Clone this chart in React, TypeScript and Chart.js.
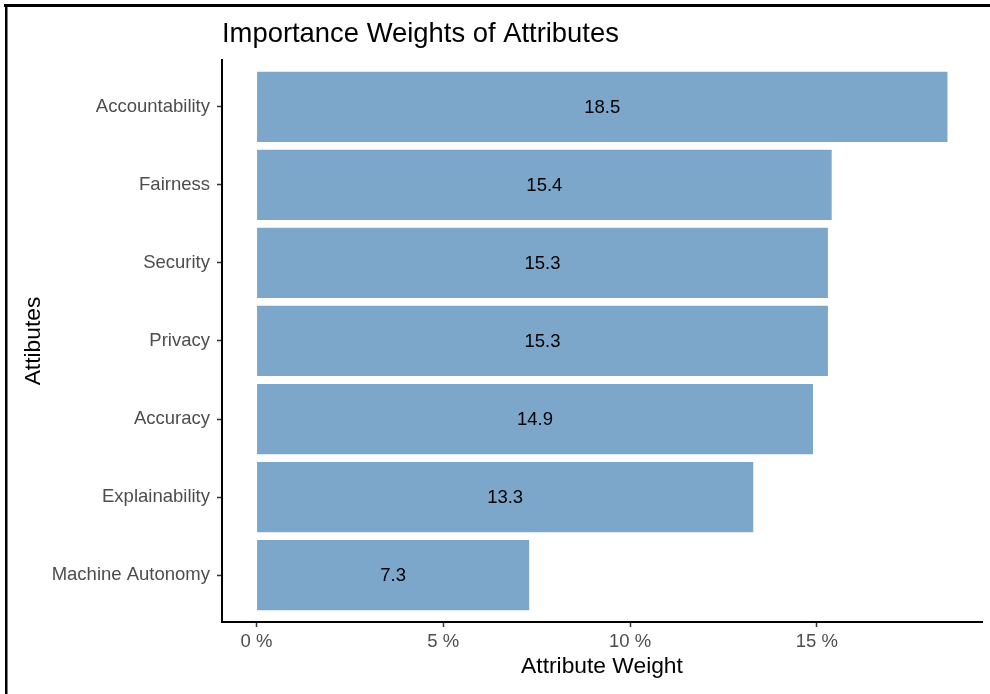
import React, { useEffect, useRef } from "react";
import { Chart, registerables } from "chart.js";

Chart.register(...registerables);

const categories: string[] = [
  "Accountability",
  "Fairness",
  "Security",
  "Privacy",
  "Accuracy",
  "Explainability",
  "Machine Autonomy",
];
const weights: number[] = [18.5, 15.4, 15.3, 15.3, 14.9, 13.3, 7.3];
const xTickValues: number[] = [0, 5, 10, 15];

const chartTitle = "Importance Weights of Attributes";
const xTitle = "Attribute Weight";
const yTitle = "Attibutes";

const FONT = "'Liberation Sans', Arial, Helvetica, sans-serif";

const framePlugin = {
  id: "frame",
  beforeDraw(chart: any) {
    const ctx = chart.ctx;
    ctx.save();
    ctx.fillStyle = "#ffffff";
    ctx.fillRect(0, 0, chart.width, chart.height);
    ctx.restore();
  },
  afterDraw(chart: any) {
    const ctx = chart.ctx;
    ctx.save();
    ctx.fillStyle = "#000000";
    ctx.fillRect(4, 4, chart.width - 4, 3);
    ctx.fillRect(5, 4, 2.5, chart.height - 4);
    ctx.restore();
  },
};

const barLabelPlugin = {
  id: "barLabels",
  afterDatasetsDraw(chart: any) {
    const ctx = chart.ctx;
    const meta = chart.getDatasetMeta(0);
    ctx.save();
    ctx.fillStyle = "#000000";
    ctx.font = `18.5px ${FONT}`;
    ctx.textAlign = "center";
    ctx.textBaseline = "middle";
    meta.data.forEach((bar: any, i: number) => {
      const p = bar.getProps(["x", "y", "base"], true);
      ctx.fillText(weights[i].toFixed(1), (p.x + p.base) / 2, p.y + 1);
    });
    ctx.restore();
  },
};

export default function App() {
  const canvasRef = useRef<HTMLCanvasElement | null>(null);

  useEffect(() => {
    if (!canvasRef.current) return;
    const n = categories.length;
    const xMax = Math.max(...weights);
    const chart = new Chart(canvasRef.current, {
      type: "bar",
      data: {
        datasets: [
          {
            data: weights.map((w, i) => ({ x: w, y: n - i })),
            backgroundColor: "rgba(70,130,180,0.7)",
            borderWidth: 0,
            categoryPercentage: 1,
            barPercentage: 0.9,
          } as any,
        ],
      },
      options: {
        animation: false,
        responsive: true,
        maintainAspectRatio: false,
        indexAxis: "y",
        layout: { padding: { left: 0, right: 8, top: 0, bottom: 0 } },
        plugins: {
          legend: { display: false },
          tooltip: { enabled: false },
          title: {
            display: true,
            text: chartTitle,
            align: "start",
            fullSize: false,
            color: "#000000",
            font: { family: FONT, size: 27.4, weight: "normal" },
            padding: { top: 18, bottom: 9.1 },
          },
        },
        scales: {
          x: {
            type: "linear",
            position: "bottom",
            min: -0.05 * xMax,
            max: xMax * 1.05,
            afterBuildTicks: (scale: any) => {
              scale.ticks = xTickValues.map((v) => ({ value: v }));
            },
            afterFit: (scale: any) => {
              scale.height = 72;
            },
            ticks: {
              color: "#4D4D4D",
              font: { family: FONT, size: 18.5 },
              padding: 4,
              callback: (v: any) => `${v} %`,
            },
            grid: {
              display: true,
              drawOnChartArea: false,
              drawTicks: true,
              tickLength: 5,
              tickColor: "#333333",
              tickWidth: 1.5,
            },
            border: { display: true, color: "#000000", width: 2 },
            title: {
              display: true,
              text: xTitle,
              color: "#000000",
              font: { family: FONT, size: 22.8 },
              padding: { top: 14, bottom: 14 },
            },
          },
          y: {
            type: "linear",
            position: "left",
            offset: false,
            min: 0.4,
            max: n + 0.6,
            afterBuildTicks: (scale: any) => {
              scale.ticks = categories.map((_, i) => ({ value: i + 1 }));
            },
            afterFit: (scale: any) => {
              scale.width = 222;
            },
            ticks: {
              color: "#4D4D4D",
              font: { family: FONT, size: 18.5 },
              padding: 7,
              callback: (v: any) => categories[n - Number(v)] ?? "",
            },
            grid: {
              display: true,
              offset: false,
              drawOnChartArea: false,
              drawTicks: true,
              tickLength: 5,
              tickColor: "#333333",
              tickWidth: 1.5,
            },
            border: { display: true, color: "#000000", width: 2 },
            title: {
              display: true,
              text: yTitle,
              color: "#000000",
              font: { family: FONT, size: 22.8 },
              padding: { top: 20, bottom: 20 },
            },
          },
        },
      } as any,
      plugins: [framePlugin, barLabelPlugin],
    });
    return () => chart.destroy();
  }, []);

  return (
    <div
      style={{
        position: "fixed",
        left: 0,
        top: 0,
        width: 990,
        height: 694,
        background: "#ffffff",
      }}
    >
      <canvas ref={canvasRef} />
    </div>
  );
}
